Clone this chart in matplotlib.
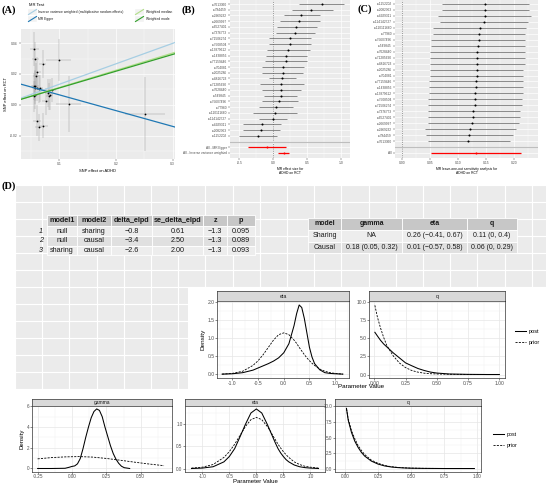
import numpy as np
import matplotlib
matplotlib.use('Agg')
import matplotlib.pyplot as plt
from matplotlib.patches import Rectangle
from matplotlib.lines import Line2D

plt.rcParams['font.family'] = ['Liberation Sans', 'DejaVu Sans']

W, H = 546, 490
MINUS = '\u2212'

# ---------------- (A) MR scatter ----------------
snp_bx = [0.056, 0.058, 0.071, 0.099, 0.061, 0.059, 0.058, 0.056, 0.057, 0.064, 0.066, 0.058,
          0.056, 0.081, 0.0835, 0.082, 0.0876, 0.076, 0.1165, 0.061, 0.064, 0.072, 0.251, 0.060]
snp_by = [0.036, 0.030, 0.0266, 0.029, 0.021, 0.0184, 0.0125, 0.0119, 0.0108, 0.0102, 0.0106, 0.0065,
          0.0054, 0.0076, 0.0065, 0.0054, 0.0097, 0.0022, 0.0006, -0.0104, -0.0147, -0.0136, -0.006, 0.0112]
snp_se_x = [0.008, 0.006, 0.006, 0.022, 0.006, 0.006, 0.006, 0.005, 0.005, 0.007, 0.006, 0.005,
            0.005, 0.006, 0.006, 0.006, 0.007, 0.006, 0.022, 0.007, 0.006, 0.008, 0.035, 0.005]
snp_se_y = [0.011, 0.011, 0.009, 0.0135, 0.010, 0.009, 0.010, 0.009, 0.010, 0.009, 0.009, 0.009,
            0.010, 0.009, 0.010, 0.009, 0.008, 0.009, 0.018, 0.010, 0.009, 0.008, 0.024, 0.009]

mr_methods = ['Inverse variance weighted (multiplicative random effects)', 'MR Egger',
              'Weighted median', 'Weighted mode']
mr_slope = [0.133, -0.1025, 0.112, 0.109]
mr_intercept = [0.0, 0.0167, 0.0, 0.0]
mr_colors = ['#A6CEE3', '#1F78B4', '#B2DF8A', '#33A02C']

# ---------------- (B) forest plot ----------------
snp_names = ['rs7613360', 'rs784459', 'rs2969232', 'rs2669997', 'rs6527401', 'rs7376773',
             'rs71506274', 'rs7508504', 'rs13879612', 'rs1438856', 'rs77159446', 'rs704081',
             'rs2025286', 'rs4816723', 'rs71285690', 'rs7628440', 'rs549845', 'rs75607496',
             'rs77960', 'rs110111660', 'rs114142727', 'rs4929311', 'rs2082363', 'rs1152202']
b_est = [0.71, 0.56, 0.41, 0.38, 0.34, 0.32, 0.25, 0.245, 0.22, 0.19, 0.18, 0.14,
         0.14, 0.13, 0.12, 0.12, 0.11, 0.09, 0.04, 0.02, -0.01, -0.17, -0.18, -0.23]
b_lo = [0.37, 0.27, 0.16, 0.10, 0.05, 0.04, -0.06, -0.07, -0.09, -0.11, -0.12, -0.16,
        -0.16, -0.07, -0.20, -0.17, -0.13, -0.17, -0.21, -0.30, -0.21, -0.45, -0.45, -0.51]
b_hi = [1.04, 0.88, 0.68, 0.68, 0.64, 0.61, 0.56, 0.56, 0.54, 0.49, 0.49, 0.45,
        0.44, 0.33, 0.45, 0.40, 0.35, 0.36, 0.29, 0.35, 0.20, 0.12, 0.10, 0.05]
b_sum_names = ['All - MR Egger', 'All - Inverse variance weighted']
b_sum_est = [-0.09, 0.15]
b_sum_lo = [-0.37, 0.07]
b_sum_hi = [0.19, 0.23]

# ---------------- (C) leave-one-out ----------------
loo_names = snp_names[::-1]
c_est = [0.1485, 0.148, 0.148, 0.146, 0.139, 0.137, 0.137, 0.136, 0.135, 0.135, 0.134, 0.134,
         0.134, 0.1325, 0.1325, 0.131, 0.131, 0.130, 0.127, 0.127, 0.125, 0.121, 0.120, 0.118]
c_lo = [0.071, 0.071, 0.065, 0.068, 0.056, 0.056, 0.053, 0.053, 0.050, 0.051, 0.051, 0.051,
        0.051, 0.049, 0.049, 0.049, 0.047, 0.047, 0.046, 0.046, 0.046, 0.041, 0.043, 0.046]
c_hi = [0.227, 0.227, 0.231, 0.225, 0.222, 0.220, 0.220, 0.220, 0.220, 0.219, 0.219, 0.217,
        0.217, 0.216, 0.216, 0.216, 0.215, 0.215, 0.211, 0.211, 0.209, 0.204, 0.198, 0.193]
c_all = [0.133, 0.053, 0.213]

# ---------------- (D) tables ----------------
t1_cols = ['model1', 'model2', 'delta_elpd', 'se_delta_elpd', 'z', 'p']
t1_index = ['1', '2', '3']
t1_rows = [['null', 'sharing', MINUS + '0.8', '0.61', MINUS + '1.3', '0.095'],
           ['null', 'causal', MINUS + '3.4', '2.50', MINUS + '1.3', '0.089'],
           ['sharing', 'causal', MINUS + '2.6', '2.00', MINUS + '1.3', '0.093']]
t2_cols = ['model', 'gamma', 'eta', 'q']
t2_rows = [['Sharing', 'NA', '0.26 (' + MINUS + '0.41, 0.67)', '0.11 (0, 0.4)'],
           ['Causal', '0.18 (0.05, 0.32)', '0.01 (' + MINUS + '0.57, 0.58)', '0.06 (0, 0.29)']]

# ---------------- (D) densities ----------------
eta_x = [-1.2, -1.0, -0.8, -0.6, -0.5, -0.4, -0.3, -0.2, -0.1, 0.0, 0.1, 0.2, 0.25,
         0.3, 0.35, 0.4, 0.45, 0.5, 0.55, 0.6, 0.7, 0.8, 0.9, 1.0, 1.15]
eta_prior = [0.01, 0.03, 0.09, 0.25, 0.38, 0.55, 0.75, 0.95, 1.10, 1.15, 1.10, 0.95, 0.86,
             0.75, 0.65, 0.55, 0.46, 0.38, 0.31, 0.25, 0.15, 0.09, 0.05, 0.03, 0.01]
eta_post_sharing = [0.01, 0.02, 0.05, 0.12, 0.18, 0.24, 0.30, 0.37, 0.46, 0.60, 0.85, 1.35, 1.68,
                    1.92, 1.85, 1.55, 1.15, 0.75, 0.48, 0.30, 0.13, 0.05, 0.03, 0.02, 0.01]
eta_post_causal = [0.0, 0.01, 0.04, 0.15, 0.27, 0.45, 0.72, 1.00, 1.25, 1.34, 1.25, 1.00, 0.86,
                   0.72, 0.58, 0.45, 0.35, 0.27, 0.20, 0.15, 0.08, 0.04, 0.02, 0.01, 0.0]

q_x = [0.005, 0.025, 0.05, 0.075, 0.1, 0.125, 0.15, 0.2, 0.25, 0.3, 0.35, 0.4, 0.45, 0.5,
       0.6, 0.75, 0.9, 1.0]
q_prior_sharing = [9.5, 7.9, 6.4, 5.1, 4.0, 3.3, 2.6, 1.6, 0.95, 0.55, 0.32, 0.18, 0.11, 0.07,
                   0.03, 0.01, 0.0, 0.0]
q_post_sharing = [5.8, 5.3, 4.7, 4.2, 3.8, 3.4, 3.0, 2.3, 1.6, 1.2, 0.82, 0.55, 0.33, 0.2,
                  0.07, 0.02, 0.0, 0.0]
q_x_causal = [0.012, 0.025, 0.05, 0.075, 0.1, 0.125, 0.15, 0.2, 0.25, 0.3, 0.35, 0.4, 0.45, 0.5,
              0.6, 0.75, 0.9, 0.98]
q_prior_causal = [9.6, 8.0, 6.1, 4.8, 3.7, 2.9, 2.25, 1.35, 0.85, 0.5, 0.3, 0.18, 0.11, 0.07,
                  0.03, 0.01, 0.0, 0.0]
q_post_causal = [9.7, 7.8, 5.8, 4.4, 3.4, 2.6, 2.0, 1.2, 0.72, 0.42, 0.25, 0.15, 0.09, 0.05,
                 0.02, 0.0, 0.0, 0.0]

gamma_post_x = [-0.25, -0.15, -0.05, -0.02, 0.0, 0.02, 0.04, 0.06, 0.08, 0.1, 0.12, 0.14, 0.16,
                0.18, 0.2, 0.22, 0.24, 0.26, 0.28, 0.3, 0.32, 0.34, 0.36, 0.38, 0.42]
gamma_post = [0.0, 0.0, 0.02, 0.12, 0.2, 0.25, 0.45, 0.95, 1.9, 3.0, 4.0, 4.9, 5.5,
              5.75, 5.6, 5.0, 4.0, 3.1, 2.2, 1.45, 0.9, 0.5, 0.22, 0.08, 0.0]
gamma_prior_x = [-0.25, -0.15, -0.05, 0.05, 0.15, 0.25, 0.35, 0.45, 0.55, 0.67]
gamma_prior = [0.93, 1.05, 1.12, 1.15, 1.10, 0.97, 0.80, 0.62, 0.45, 0.27]

fig = plt.figure(figsize=(W / 100, H / 100), dpi=100)


def box(x0, y0, x1, y1):
    return fig.add_axes([x0 / W, 1 - y1 / H, (x1 - x0) / W, (y1 - y0) / H])


def gg_grey(ax, fs):
    ax.set_facecolor('#EBEBEB')
    for s in ax.spines.values():
        s.set_visible(False)
    ax.grid(True, which='major', color='white', lw=0.5)
    ax.grid(True, which='minor', color='white', lw=0.25)
    ax.set_axisbelow(True)
    ax.tick_params(which='major', length=1.5, width=0.3, color='#333333',
                   labelsize=fs, labelcolor='#4D4D4D', pad=0.8)
    ax.tick_params(which='minor', length=0)


def minors(ticks, lim):
    step = ticks[1] - ticks[0]
    m = [t + step / 2 for t in [ticks[0] - step] + list(ticks)]
    return [v for v in m if lim[0] <= v <= lim[1]]


# ---------- A ----------
axA = box(20.7, 29.3, 175, 159.3)
gg_grey(axA, 2.4)
axA.set_xlim(0.032, 0.304)
axA.set_ylim(-0.0354, 0.049)
axA.set_xticks([0.1, 0.2, 0.3])
axA.set_xticklabels(['0.1', '0.2', '0.3'])
axA.set_xticks(minors([0.1, 0.2, 0.3], (0.032, 0.304)), minor=True)
axA.set_yticks([-0.02, 0.0, 0.02, 0.04])
axA.set_yticklabels(['-0.02', '0.00', '0.02', '0.04'])
axA.set_yticks(minors([-0.02, 0.0, 0.02, 0.04], (-0.0354, 0.049)), minor=True)
axA.errorbar(snp_bx, snp_by, xerr=snp_se_x, yerr=snp_se_y, fmt='none',
             ecolor='#9E9E9E', elinewidth=0.35, capsize=0, zorder=2)
axA.scatter(snp_bx, snp_by, s=1.6, color='black', zorder=3, linewidths=0)
for s, b, c in zip(mr_slope, mr_intercept, mr_colors):
    axA.axline((0, b), slope=s, color=c, lw=0.9, zorder=4)
axA.set_xlabel('SNP effect on ADHD', fontsize=2.9, labelpad=1.5)
axA.set_ylabel('SNP effect on RCT', fontsize=2.9, labelpad=1.5)

# ---------- B ----------
axB = box(230, 0, 350, 158)
gg_grey(axB, 2.4)
nb = len(snp_names)
b_rows = list(range(nb))
b_sum_rows = [nb + 1, nb + 2]
axB.set_xlim(-0.637, 1.127)
axB.set_ylim(nb + 2.88, -0.7)
axB.set_xticks([-0.5, 0.0, 0.5, 1.0])
axB.set_xticklabels(['-0.5', '0.0', '0.5', '1.0'])
axB.set_xticks(minors([-0.5, 0.0, 0.5, 1.0], (-0.637, 1.127)), minor=True)
axB.set_yticks(b_rows + b_sum_rows)
axB.set_yticklabels(snp_names + b_sum_names)
axB.tick_params(axis='y', labelsize=2.3)
axB.axvline(0, color='#555555', lw=0.4, ls=(0, (2, 2)))
axB.axhline(nb, color='#BEBEBE', lw=0.8)
axB.hlines(b_rows, b_lo, b_hi, color='#4D4D4D', lw=0.45)
axB.scatter(b_est, b_rows, s=2.2, color='black', zorder=3, linewidths=0)
axB.hlines(b_sum_rows, b_sum_lo, b_sum_hi, color='red', lw=0.9)
axB.scatter(b_sum_est, b_sum_rows, s=2.2, color='red', zorder=3, linewidths=0)
axB.set_xlabel('MR effect size for\nADHD on RCT', fontsize=2.4, labelpad=1, linespacing=1.0)

# ---------- C ----------
axC = box(395, 0, 538, 158)
gg_grey(axC, 2.4)
nc = len(loo_names)
c_rows = list(range(nc))
axC.set_xlim(-0.012, 0.243)
axC.set_ylim(nc + 1.84, -0.67)
axC.set_xticks([0.0, 0.05, 0.10, 0.15, 0.20])
axC.set_xticklabels(['0.00', '0.05', '0.10', '0.15', '0.20'])
axC.set_xticks(minors([0.0, 0.05, 0.10, 0.15, 0.20], (-0.012, 0.243)), minor=True)
axC.set_yticks(c_rows + [nc + 1])
axC.set_yticklabels(loo_names + ['All'])
axC.tick_params(axis='y', labelsize=2.3)
axC.axvline(0, color='#555555', lw=0.4, ls=(0, (2, 2)))
axC.axhline(nc, color='#BEBEBE', lw=0.8)
axC.hlines(c_rows, c_lo, c_hi, color='#4D4D4D', lw=0.45)
axC.scatter(c_est, c_rows, s=2.2, color='black', zorder=3, linewidths=0)
axC.hlines([nc + 1], [c_all[1]], [c_all[2]], color='red', lw=0.9)
axC.scatter([c_all[0]], [nc + 1], s=2.2, color='red', zorder=3, linewidths=0)
axC.set_xlabel('MR leave-one-out sensitivity analysis for\nADHD on RCT', fontsize=2.4,
               labelpad=1, linespacing=1.0)

# ---------- D background ----------
bgD = box(15, 185, 546, 390)
bgD.set_facecolor('#EBEBEB')
bgD.set_xlim(15, 546)
bgD.set_ylim(390, 185)
bgD.set_xticks([])
bgD.set_yticks([])
for s in bgD.spines.values():
    s.set_visible(False)
for gx in np.arange(15, 546, 27.2):
    bgD.axvline(gx, color='white', lw=0.8)
for gy in np.arange(185, 390, 17):
    bgD.axhline(gy, color='white', lw=0.8)
bgD.add_patch(Rectangle((188, 287), 360, 105, facecolor='white', edgecolor='none', zorder=5))


# ---------- density panels ----------
def dens_panel(x0, x1, ys0, ys1, y1, title, xlim, ylim, xt, xtl, yt, ytl, curves, fs):
    st = box(x0, ys0, x1, ys1)
    st.set_facecolor('#D9D9D9')
    st.set_xticks([])
    st.set_yticks([])
    for sp in st.spines.values():
        sp.set_color('#333333')
        sp.set_linewidth(0.5)
    st.text(0.5, 0.45, title, ha='center', va='center', fontsize=fs + 0.2,
            color='#1A1A1A', transform=st.transAxes)
    ax = box(x0, ys1, x1, y1)
    ax.set_facecolor('white')
    for sp in ax.spines.values():
        sp.set_color('#333333')
        sp.set_linewidth(0.5)
    ax.set_xlim(xlim)
    ax.set_ylim(ylim)
    ax.set_xticks(xt)
    ax.set_xticklabels(xtl)
    ax.set_yticks(yt)
    ax.set_yticklabels(ytl)
    ax.set_xticks(minors(xt, xlim), minor=True)
    ax.set_yticks(minors(yt, ylim), minor=True)
    ax.grid(True, which='major', color='#E6E6E6', lw=0.5)
    ax.grid(True, which='minor', color='#F0F0F0', lw=0.3)
    ax.set_axisbelow(True)
    ax.tick_params(which='major', length=1.3, width=0.4, color='#333333',
                   labelsize=fs, labelcolor='#4D4D4D', pad=0.5)
    ax.tick_params(which='minor', length=0)
    for cx, cy, dashed in curves:
        if dashed:
            ax.plot(cx, cy, color='black', lw=0.6, ls=(0, (2.5, 1.5)))
        else:
            ax.plot(cx, cy, color='black', lw=0.75)
    return ax


eta_ticks = [-1.0, -0.5, 0.0, 0.5, 1.0]
eta_lab = ['-1.0', '-0.5', '0.0', '0.5', '1.0']
q_ticks = [0.0, 0.25, 0.5, 0.75, 1.0]
q_lab = ['0.00', '0.25', '0.50', '0.75', '1.00']
qy_ticks = [0.0, 2.5, 5.0, 7.5, 10.0]
qy_lab = ['0.0', '2.5', '5.0', '7.5', '10.0']

# middle: sharing model
m1 = dens_panel(217, 349, 291, 301, 378, 'eta', (-1.30, 1.27), (-0.097, 2.03),
                eta_ticks, eta_lab, [0, 0.5, 1.0, 1.5, 2.0], ['0.0', '0.5', '1.0', '1.5', '2.0'],
                [(eta_x, eta_post_sharing, False), (eta_x, eta_prior, True)], 3.6)
m1.set_ylabel('Density', fontsize=4.6, labelpad=1.5)
m2 = dens_panel(369, 505, 291, 301, 378, 'q', (-0.042, 1.045), (-0.48, 10.1),
                q_ticks, q_lab, qy_ticks, qy_lab,
                [(q_x, q_post_sharing, False), (q_x, q_prior_sharing, True)], 3.6)

# bottom: causal model
b1 = dens_panel(32, 172, 399, 406, 471.5, 'gamma', (-0.291, 0.728), (-0.29, 6.03),
                [-0.25, 0.0, 0.25, 0.5], ['-0.25', '0.00', '0.25', '0.50'],
                [0, 2, 4, 6], ['0', '2', '4', '6'],
                [(gamma_post_x, gamma_post, False), (gamma_prior_x, gamma_prior, True)], 3.3)
b1.set_ylabel('Density', fontsize=4.4, labelpad=1.5)
b2 = dens_panel(185, 325, 399, 406, 471.5, 'eta', (-1.32, 1.27), (-0.067, 1.407),
                eta_ticks, eta_lab, [0, 0.5, 1.0], ['0.0', '0.5', '1.0'],
                [(eta_x, eta_post_causal, False), (eta_x, eta_prior, True)], 3.3)
b3 = dens_panel(335, 481, 399, 406, 471.5, 'q', (-0.075, 1.03), (-0.48, 10.08),
                q_ticks, q_lab, qy_ticks, qy_lab,
                [(q_x_causal, q_post_causal, False), (q_x_causal, q_prior_causal, True)], 3.3)

# ---------- overlay: labels, legends, tables ----------
ov = fig.add_axes([0, 0, 1, 1], zorder=10)
ov.set_xlim(0, W)
ov.set_ylim(H, 0)
ov.axis('off')

serif = ['Liberation Serif', 'DejaVu Serif']
for lab, lx, ly in [('(A)', 2, 10), ('(B)', 182, 10), ('(C)', 357, 9), ('(D)', 2, 186)]:
    ov.text(lx, ly, lab, fontsize=7.5, fontweight='bold', family=serif, va='center', ha='left')

# MR legend
ov.text(29, 5, 'MR Test', fontsize=3.0, va='center', ha='left')
key_pos = [(28, 9), (28, 16), (135, 9), (135, 16)]
for (kx, ky), name, col in zip(key_pos, mr_methods, mr_colors):
    ov.add_patch(Rectangle((kx, ky), 9, 6, facecolor='#F2F2F2', edgecolor='white', lw=0.3))
    ov.add_line(Line2D([kx + 0.5, kx + 8.5], [ky + 5.5, ky + 0.5], color=col, lw=0.8))
    ov.text(kx + 10.5, ky + 3, name, fontsize=2.4, va='center', ha='left', color='#1A1A1A')

# density legends
for lx, ty, fs in [(515, 331, 4.0), (493, 434, 3.8)]:
    ov.add_line(Line2D([lx, lx + 11], [ty, ty], color='black', lw=0.75))
    ov.add_line(Line2D([lx, lx + 11], [ty + 11, ty + 11], color='black', lw=0.6, ls=(0, (2.5, 1.5))))
    ov.text(lx + 14, ty, 'post', fontsize=fs, va='center', ha='left')
    ov.text(lx + 14, ty + 11, 'prior', fontsize=fs, va='center', ha='left')

ov.text(361, 386.5, 'Parameter Value', fontsize=4.5, ha='center', va='center')
ov.text(255, 481.5, 'Parameter Value', fontsize=4.3, ha='center', va='center')


def draw_table(cols, rows, xedges, yedges, fs, index=None, idx_x=None):
    fills = ['#EDEDED', '#E0E0E0']
    for j, c in enumerate(cols):
        ov.add_patch(Rectangle((xedges[j], yedges[0]), xedges[j + 1] - xedges[j],
                               yedges[1] - yedges[0], facecolor='#C7C7C7', edgecolor='white', lw=0.6))
        ov.text((xedges[j] + xedges[j + 1]) / 2, (yedges[0] + yedges[1]) / 2, c,
                fontsize=fs, fontweight='bold', ha='center', va='center', color='#1A1A1A')
    for i, r in enumerate(rows):
        y0, y1 = yedges[i + 1], yedges[i + 2]
        for j, v in enumerate(r):
            ov.add_patch(Rectangle((xedges[j], y0), xedges[j + 1] - xedges[j], y1 - y0,
                                   facecolor=fills[i % 2], edgecolor='white', lw=0.6))
            ov.text((xedges[j] + xedges[j + 1]) / 2, (y0 + y1) / 2, v,
                    fontsize=fs, ha='center', va='center', color='#1A1A1A')
        if index is not None:
            ov.text(idx_x, (y0 + y1) / 2, index[i], fontsize=fs, ha='right', va='center',
                    style='italic', color='#1A1A1A')


draw_table(t1_cols, t1_rows, [47, 77, 111, 152, 203, 227, 255], [214.5, 226, 236, 245.5, 255],
           5.2, index=t1_index, idx_x=43)
draw_table(t2_cols, t2_rows, [308, 341, 402, 467, 517], [218, 229.5, 241.5, 253], 5.0)

fig.savefig('out.png', dpi=100)
